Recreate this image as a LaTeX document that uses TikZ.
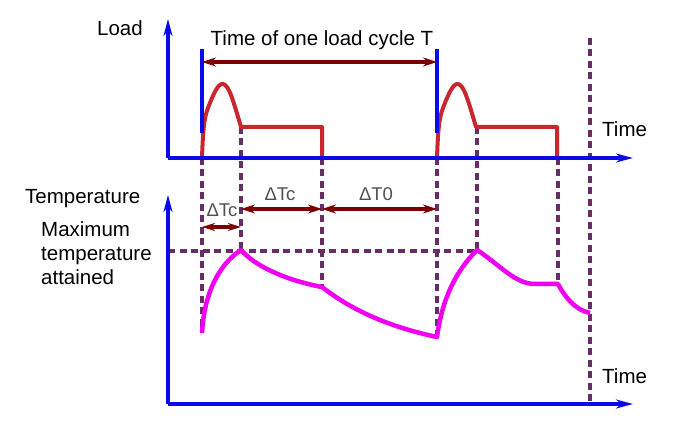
\documentclass[tikz,border=0pt]{standalone}
\usepackage{fontspec}
\setmainfont{Liberation Sans}
\usetikzlibrary{arrows.meta}
\definecolor{axblue}{RGB}{10,10,230}
\definecolor{loadred}{RGB}{200,40,45}
\definecolor{dimred}{RGB}{125,0,0}
\definecolor{dashpurple}{RGB}{102,45,102}
\definecolor{tempmag}{RGB}{240,0,240}
\definecolor{lblgray}{RGB}{80,80,80}
\tikzset{
  axis/.style={draw=axblue, line width=4pt, -{Stealth[length=17pt,width=9pt]}},
  marker/.style={draw=axblue, line width=4pt},
  loadcurve/.style={draw=loadred, line width=4pt, line join=round},
  tempcurve/.style={draw=tempmag, line width=4.5pt, line join=round},
  guide/.style={draw=dashpurple, line width=4pt, dash pattern=on 7pt off 4.5pt},
  dimarrow/.style={draw=dimred, line width=4pt, {Stealth[length=14pt,width=9pt]}-{Stealth[length=14pt,width=9pt]}},
  lbl/.style={inner sep=0pt, font=\fontsize{20.5}{24}\selectfont},
  dlbl/.style={inner sep=0pt, text=lblgray, font=\fontsize{18.5}{22}\selectfont},
}
\begin{document}
\begin{tikzpicture}[x=1pt,y=-1pt]
\useasboundingbox (0,0) rectangle (683,435);
% coordinates
\coordinate (LO) at (168,158);
\coordinate (LY) at (168,19);
\coordinate (LX) at (633,158);
\coordinate (TO) at (168,404);
\coordinate (TY) at (168,195);
\coordinate (TX) at (633,404);
\coordinate (M1t) at (202,49);
\coordinate (M1b) at (202,133);
\coordinate (M2t) at (437,49);
\coordinate (M2b) at (437,133);
\coordinate (C1) at (202,62);
\coordinate (C2) at (437,62);
% guides
\draw[guide] (202,158) -- (202,333);
\draw[guide] (241,127) -- (241,250);
\draw[guide] (322,158) -- (322,287);
\draw[guide] (437,158) -- (437,337);
\draw[guide] (477,127) -- (477,250);
\draw[guide] (558,158) -- (558,284);
\draw[guide] (590,38) -- (590,404);
\draw[guide] (168,251) -- (477,251);
% load curves
\foreach \d in {0,235}{
\draw[loadcurve] (202+\d,158) .. controls (203+\d,130) and (204+\d,118) .. (208+\d,108)
  .. controls (213+\d,95) and (218+\d,83) .. (223+\d,84)
  .. controls (229+\d,85) and (233+\d,100) .. (241+\d,127)
  -- (322+\d,127) -- (322+\d,158);
}
% temperature curve
\draw[tempcurve] (202,333) .. controls (204,295) and (218,265) .. (241,250)
  .. controls (255,266) and (285,280) .. (322,287)
  .. controls (345,305) and (380,325) .. (437,337)
  .. controls (442,300) and (455,272) .. (477,250)
  .. controls (500,265) and (515,284) .. (535,284) -- (558,284)
  .. controls (565,297) and (575,310) .. (590,313);
% markers
\draw[marker] (M1t) -- (M1b);
\draw[marker] (M2t) -- (M2b);
% axes
\draw[axis] (LO) -- (LY);
\draw[axis] (LO) -- (LX);
\draw[axis] (TO) -- (TY);
\draw[axis] (TO) -- (TX);
% dimensions
\coordinate (D1a) at (202,227);
\coordinate (D1b) at (241,227);
\coordinate (D2a) at (241,209);
\coordinate (D2b) at (322,209);
\coordinate (D3a) at (322,209);
\coordinate (D3b) at (437,209);
\draw[dimarrow] (C1) -- (C2);
\draw[dimarrow, {Stealth[length=13pt,width=8pt]}-{Stealth[length=13pt,width=8pt]}] (D1a) -- (D1b);
\draw[dimarrow] (D2a) -- (D2b);
\draw[dimarrow] (D3a) -- (D3b);
% labels
\node[lbl] (load) at (120,28) {Load};
\node[lbl] (cycle) at (322,40) {Time of one load cycle T};
\node[lbl, anchor=west] (time1) at (602,129) {Time};
\node[lbl, anchor=west] (temp) at (25,199) {Temperature};
\node[lbl, anchor=west, align=left] (maxt) at (41,253) {Maximum\\temperature\\attained};
\node[lbl, anchor=west] (time2) at (602,376) {Time};
\node[dlbl] (dtc1) at (222,210) {ΔTc};
\node[dlbl] (dtc2) at (280,194) {ΔTc};
\node[dlbl] (dt0) at (376,194) {ΔT0};
\end{tikzpicture}
\end{document}
